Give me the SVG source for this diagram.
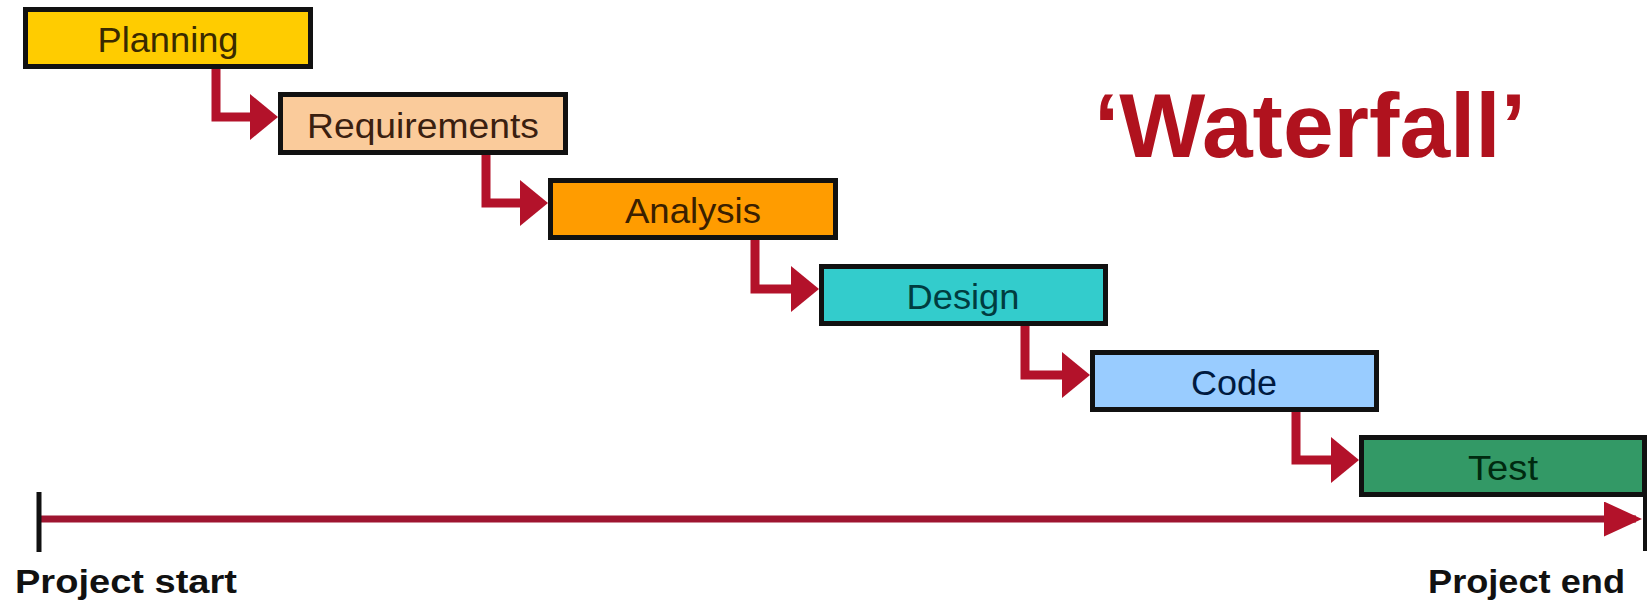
<svg xmlns="http://www.w3.org/2000/svg" width="1649" height="603" viewBox="0 0 1649 603">
<style>
.box{stroke:#111;stroke-width:5}
.lbl{font-family:"Liberation Sans",Arial,sans-serif;font-size:35px;text-anchor:middle}
.conn{fill:none;stroke:#B3122A;stroke-width:9;stroke-linejoin:miter}
.time{fill:none;stroke:#9E1530;stroke-width:7}
.bold{font-family:"Liberation Sans",Arial,sans-serif;font-weight:bold}
</style>
<defs>
<marker id="ah" markerUnits="userSpaceOnUse" viewBox="0 0 28 46" refX="20" refY="23" markerWidth="28" markerHeight="46" orient="auto">
<path d="M0,0 L28,23 L0,46 Z" fill="#B3122A"/>
</marker>
<marker id="th" markerUnits="userSpaceOnUse" viewBox="0 0 38 35" refX="32" refY="17.5" markerWidth="38" markerHeight="35" orient="auto">
<path d="M0,0 L38,17.5 L0,35 Z" fill="#B3122A"/>
</marker>
</defs>
<rect width="1649" height="603" fill="#fff"/>

<g id="connectors">
<path class="conn" d="M216,69 V117 H270" marker-end="url(#ah)"/>
<path class="conn" d="M486,155 V203 H540" marker-end="url(#ah)"/>
<path class="conn" d="M755,240 V289 H811" marker-end="url(#ah)"/>
<path class="conn" d="M1025,326 V375 H1082" marker-end="url(#ah)"/>
<path class="conn" d="M1296,412 V460 H1351" marker-end="url(#ah)"/>
</g>

<g id="planning">
<rect class="box" x="25.5" y="9.5" width="285" height="57" fill="#FFCC00"/>
<text class="lbl" x="168" y="52" fill="#3A2A00" textLength="141" lengthAdjust="spacingAndGlyphs">Planning</text>
</g>
<g id="requirements">
<rect class="box" x="280.5" y="94.5" width="285" height="58" fill="#FACB9B"/>
<text class="lbl" x="423" y="138" fill="#3A2010" textLength="232" lengthAdjust="spacingAndGlyphs">Requirements</text>
</g>
<g id="analysis">
<rect class="box" x="550.5" y="180.5" width="285" height="57" fill="#FF9C00"/>
<text class="lbl" x="693" y="223" fill="#3A2000" textLength="136" lengthAdjust="spacingAndGlyphs">Analysis</text>
</g>
<g id="design">
<rect class="box" x="821.5" y="266.5" width="284" height="57" fill="#33CCCC"/>
<text class="lbl" x="963" y="309" fill="#003C40" textLength="113" lengthAdjust="spacingAndGlyphs">Design</text>
</g>
<g id="code">
<rect class="box" x="1092.5" y="352.5" width="284" height="57" fill="#99CCFF"/>
<text class="lbl" x="1234" y="395" fill="#001A40" textLength="86" lengthAdjust="spacingAndGlyphs">Code</text>
</g>
<g id="test">
<rect class="box" x="1361.5" y="437.5" width="283" height="57" fill="#339966"/>
<text class="lbl" x="1503" y="480" fill="#002A10" textLength="70" lengthAdjust="spacingAndGlyphs">Test</text>
</g>

<g id="timeline">
<line class="time" x1="40" y1="519" x2="1636" y2="519" marker-end="url(#th)"/>
<line x1="39" y1="492" x2="39" y2="552" stroke="#111" stroke-width="5"/>
<line x1="1645" y1="494" x2="1645" y2="551" stroke="#111" stroke-width="4"/>
<text class="bold" x="15" y="593" font-size="33" fill="#111" textLength="222" lengthAdjust="spacingAndGlyphs">Project start</text>
<text class="bold" x="1428" y="593" font-size="33" fill="#111" textLength="197" lengthAdjust="spacingAndGlyphs">Project end</text>
</g>

<g id="title">
<text class="bold" x="1094" y="157" font-size="90" fill="#B0121E" textLength="432" lengthAdjust="spacingAndGlyphs">‘Waterfall’</text>
</g>
</svg>
